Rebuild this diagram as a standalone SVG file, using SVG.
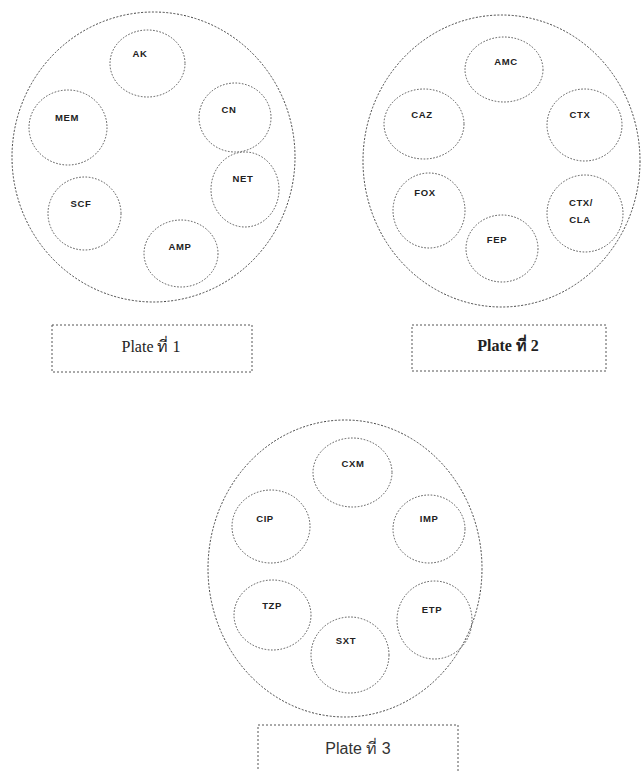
<svg xmlns="http://www.w3.org/2000/svg" width="641" height="771" viewBox="0 0 641 771">
<style>
.plate{fill:none;stroke:#444;stroke-width:1;stroke-dasharray:2 1.6}
.disc{fill:none;stroke:#555;stroke-width:1;stroke-dasharray:1.6 1.6}
.box{fill:none;stroke:#555;stroke-width:1;stroke-dasharray:2 2}
.lbl{font-family:"Liberation Sans","DejaVu Sans",sans-serif;font-size:9.5px;font-weight:bold;fill:#222;text-anchor:middle;letter-spacing:0.6px}
.cap{font-family:"Liberation Serif","Noto Sans",serif;font-size:16px;fill:#222;text-anchor:middle}
.cap2{font-family:"Liberation Serif","Noto Sans",serif;font-size:16px;font-weight:bold;fill:#222;text-anchor:middle}
.cap3{font-family:"Liberation Sans","Noto Sans",sans-serif;font-size:16px;fill:#333;text-anchor:middle}
</style>
<rect width="641" height="771" fill="#fff"/>
<g id="plate1">
<ellipse class="plate" cx="153.5" cy="157" rx="141.5" ry="145"/>
<g id="AK"><ellipse class="disc" cx="147.5" cy="63.5" rx="37.5" ry="33.5"/><text class="lbl" x="140" y="57">AK</text></g>
<g id="MEM"><ellipse class="disc" cx="68" cy="127.5" rx="39" ry="37.5"/><text class="lbl" x="67" y="121">MEM</text></g>
<g id="CN"><ellipse class="disc" cx="235" cy="117.5" rx="36" ry="34.5"/><text class="lbl" x="229" y="113">CN</text></g>
<g id="NET"><ellipse class="disc" cx="245" cy="189.5" rx="34" ry="37.5"/><text class="lbl" x="243" y="182">NET</text></g>
<g id="SCF"><ellipse class="disc" cx="84.5" cy="213.5" rx="36.5" ry="36.5"/><text class="lbl" x="81" y="207">SCF</text></g>
<g id="AMP"><ellipse class="disc" cx="181" cy="253.5" rx="37" ry="33.5"/><text class="lbl" x="180" y="250">AMP</text></g>
</g>
<g id="plate2">
<ellipse class="plate" cx="501.5" cy="161" rx="138.5" ry="146"/>
<g id="AMC"><ellipse class="disc" cx="504" cy="69.5" rx="39" ry="32.5"/><text class="lbl" x="506" y="65">AMC</text></g>
<g id="CAZ"><ellipse class="disc" cx="424" cy="124" rx="40" ry="35"/><text class="lbl" x="422" y="118">CAZ</text></g>
<g id="CTX"><ellipse class="disc" cx="584.5" cy="125" rx="37.5" ry="36"/><text class="lbl" x="580" y="118">CTX</text></g>
<g id="FOX"><ellipse class="disc" cx="429" cy="210.5" rx="36" ry="37.5"/><text class="lbl" x="425" y="196">FOX</text></g>
<g id="FEP"><ellipse class="disc" cx="502" cy="248.5" rx="36" ry="33.5"/><text class="lbl" x="497" y="243">FEP</text></g>
<g id="CTX-CLA"><ellipse class="disc" cx="585" cy="213.5" rx="38" ry="38.5"/><text class="lbl" x="581" y="206">CTX/</text><text class="lbl" x="580" y="223">CLA</text></g>
</g>
<g id="plate3">
<ellipse class="plate" cx="345" cy="568.5" rx="137" ry="148.5"/>
<g id="CXM"><ellipse class="disc" cx="352.5" cy="472.5" rx="39.5" ry="34.5"/><text class="lbl" x="353" y="467">CXM</text></g>
<g id="CIP"><ellipse class="disc" cx="271" cy="526.5" rx="39" ry="36.5"/><text class="lbl" x="265" y="522">CIP</text></g>
<g id="IMP"><ellipse class="disc" cx="429" cy="529" rx="36" ry="34"/><text class="lbl" x="429" y="522">IMP</text></g>
<g id="TZP"><ellipse class="disc" cx="272.5" cy="615" rx="38.5" ry="35"/><text class="lbl" x="272" y="609">TZP</text></g>
<g id="ETP"><ellipse class="disc" cx="434.5" cy="620" rx="37.5" ry="39"/><text class="lbl" x="432" y="613">ETP</text></g>
<g id="SXT"><ellipse class="disc" cx="350" cy="655" rx="39" ry="38"/><text class="lbl" x="346" y="644">SXT</text></g>
</g>
<g id="label1"><rect class="box" x="52" y="325" width="200" height="47"/><text class="cap" x="151" y="352">Plate ที่ 1</text></g>
<g id="label2"><rect class="box" x="412" y="325" width="194" height="46"/><text class="cap2" x="508" y="351">Plate ที่ 2</text></g>
<g id="label3"><rect class="box" x="258" y="725" width="200" height="48"/><text class="cap3" x="358" y="754">Plate ที่ 3</text></g>
</svg>
